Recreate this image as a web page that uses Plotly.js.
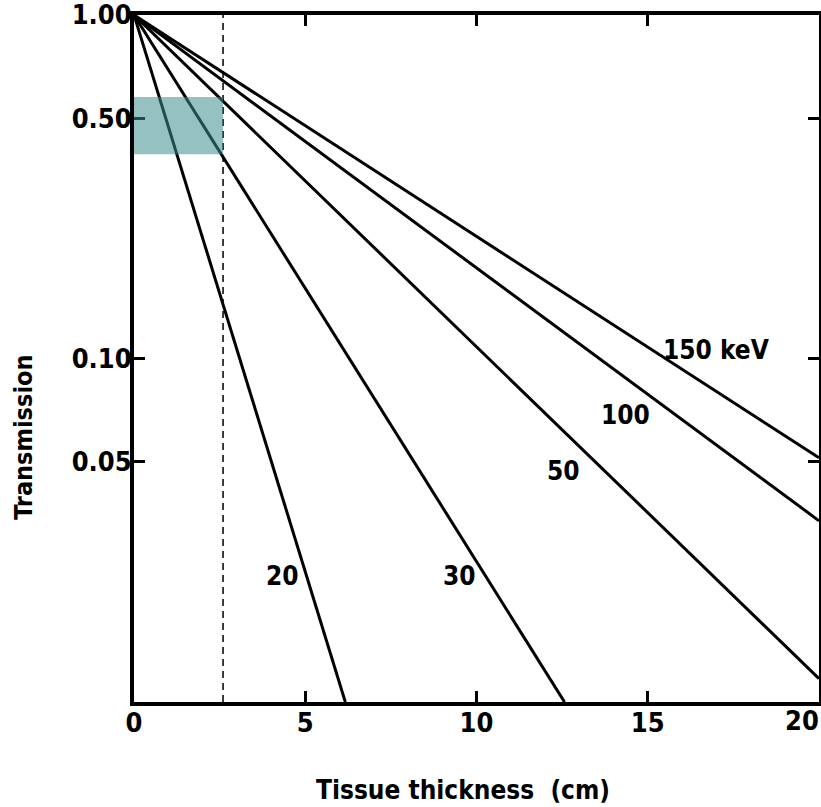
<!DOCTYPE html>
<html>
<head>
<meta charset="utf-8">
<script src="https://cdn.plot.ly/plotly-3.0.1.min.js"></script>
<style>html,body{margin:0;padding:0;background:#fff;}#chart{width:821px;height:807px;}</style>
</head>
<body>
<div id="chart"></div>
<script>
// Energies (line labels)
const lineLabels = ['20', '30', '50', '100', '150 keV'];
// Tissue thickness (cm) and transmission (straight lines on log scale)
const x20 = [0, 6.17];   const t20 = [1.0, 0.01];
const x30 = [0, 12.57];  const t30 = [1.0, 0.01];
const x50 = [0, 20];     const t50 = [1.0, 0.0117];
const x100 = [0, 20];    const t100 = [1.0, 0.0337];
const x150 = [0, 20];    const t150 = [1.0, 0.0514];
// Label positions
const labelX = [4.33, 9.5, 12.55, 14.36, 17.0];
const labelY = [0.0233, 0.0233, 0.0471, 0.0687, 0.106];
// Axis ticks
const xTickVals = [0, 5, 10, 15, 20];
const xTickText = ['0', '5', '10', '15', '20'];
const yTickVals = [0.05, 0.1, 0.5, 1.0];
const yTickText = ['0.05', '0.10', '0.50', '1.00'];
// Titles
const xTitle = 'Tissue thickness  (cm)';
const yTitle = 'Transmission';
// Highlighted region and reference thickness
const boxX = [0, 2.6];
const boxY = [0.393, 0.577];
const refThickness = 2.6;

const FONT = 'DejaVu Sans Condensed, Liberation Sans Narrow, sans-serif';
const lineStyle = {color: '#000', width: 3};
const xs = [x20, x30, x50, x100, x150];
const ts = [t20, t30, t50, t100, t150];
const traces = xs.map((x, i) => ({
  type: 'scatter', mode: 'lines', x: x, y: ts[i], line: lineStyle,
  name: lineLabels[i], hoverinfo: 'skip'
}));

const tickFont = {family: FONT, size: 27, color: '#000', weight: 'bold'};
const annotations = lineLabels.map((t, i) => ({
  x: labelX[i], y: Math.log10(labelY[i]), xref: 'x', yref: 'y',
  text: t, showarrow: false,
  font: {family: FONT, size: 26, color: '#000', weight: 'bold'}
}));
// last x tick label sits flush against the right edge, as in the reference
const lastIdx = xTickVals.length - 1;
annotations.push({
  x: xTickVals[lastIdx], y: 0, xref: 'x', yref: 'paper', xanchor: 'right', yanchor: 'top',
  yshift: -1, xshift: 2, text: xTickText[lastIdx], showarrow: false, font: tickFont
});
annotations.push({
  x: 0.480, y: -0.128, xref: 'paper', yref: 'paper', xanchor: 'center', yanchor: 'middle',
  text: xTitle, showarrow: false,
  font: {family: FONT, size: 26, color: '#000', weight: 'bold'}
});
annotations.push({
  x: -0.1606, y: 0.386, xref: 'paper', yref: 'paper', xanchor: 'center', yanchor: 'middle',
  text: yTitle, showarrow: false, textangle: -90,
  font: {family: FONT, size: 25, color: '#000', weight: 'bold'}
});

const layout = {
  width: 821, height: 807,
  margin: {l: 134, r: 2, t: 15, b: 105},
  paper_bgcolor: '#fff', plot_bgcolor: '#fff',
  showlegend: false,
  font: {family: FONT, color: '#000', weight: 'bold'},
  xaxis: {
    range: [0, 20], tickvals: xTickVals,
    ticktext: xTickText.map((t, i) => i === lastIdx ? '' : t),
    ticks: 'inside', ticklen: 11, tickwidth: 3, tickcolor: '#000',
    showline: true, linewidth: 4, linecolor: '#000', mirror: 'ticks',
    showgrid: false, zeroline: false, ticklabeloverflow: 'allow',
    ticklabelstandoff: -6,
    tickfont: tickFont
  },
  yaxis: {
    type: 'log', range: [-2, 0], tickvals: yTickVals, ticktext: yTickText,
    ticks: 'inside', ticklen: 11, tickwidth: 3, tickcolor: '#000',
    showline: true, linewidth: 4, linecolor: '#000', mirror: 'ticks',
    showgrid: false, zeroline: false, ticklabeloverflow: 'allow',
    ticklabelstandoff: -7,
    tickfont: tickFont
  },
  shapes: [
    {type: 'line', xref: 'x', yref: 'paper', x0: refThickness, x1: refThickness, y0: 0, y1: 1,
      line: {color: '#000', width: 1.5, dash: '7px,5px'}},
    {type: 'rect', xref: 'x', yref: 'y', x0: boxX[0], x1: boxX[1], y0: boxY[0], y1: boxY[1],
      fillcolor: 'rgba(60,140,140,0.54)', line: {width: 0}, layer: 'above'}
  ],
  annotations: annotations
};

Plotly.newPlot('chart', traces, layout, {staticPlot: true, displayModeBar: false});
</script>
</body>
</html>
